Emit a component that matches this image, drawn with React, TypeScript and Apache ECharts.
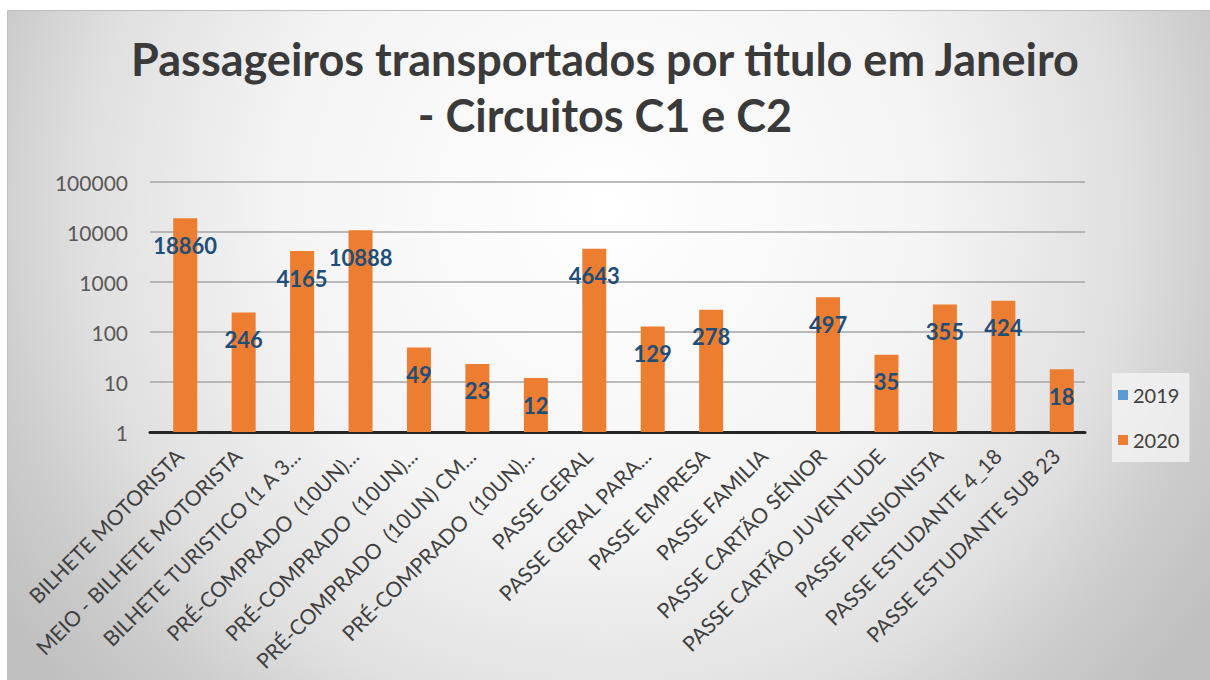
import React, { useEffect, useRef } from "react";
import * as echarts from "echarts";

const titleText = "Passageiros transportados por titulo em Janeiro\n- Circuitos C1 e C2";

const categories = [
  "BILHETE MOTORISTA",
  "MEIO - BILHETE MOTORISTA",
  "BILHETE TURISTICO (1 A 3...",
  "PRÉ-COMPRADO  (10UN)...",
  "PRÉ-COMPRADO  (10UN)...",
  "PRÉ-COMPRADO  (10UN) CM...",
  "PRÉ-COMPRADO  (10UN)...",
  "PASSE GERAL",
  "PASSE GERAL PARA...",
  "PASSE EMPRESA",
  "PASSE FAMILIA",
  "PASSE CARTÃO SÉNIOR",
  "PASSE CARTÃO JUVENTUDE",
  "PASSE PENSIONISTA",
  "PASSE ESTUDANTE 4_18",
  "PASSE ESTUDANTE SUB 23",
];

const values2019 = [null, null, null, null, null, null, null, null, null, null, null, null, null, null, null, null];
const values2020 = [18860, 246, 4165, 10888, 49, 23, 12, 4643, 129, 278, null, 497, 35, 355, 424, 18];

const seriesNames = ["2019", "2020"];
const yTicks = [1, 10, 100, 1000, 10000, 100000];

export default function App() {
  const ref = useRef<HTMLDivElement>(null);

  useEffect(() => {
    if (!ref.current) return;
    const chart = echarts.init(ref.current, undefined, { renderer: "svg" });
    const font = "Lato, 'Open Sans', sans-serif";
    chart.setOption({
      animation: false,
      graphic: [
        {
          type: "rect",
          z: -10,
          silent: true,
          shape: { x: 7.5, y: 10.5, width: 1210, height: 680 },
          style: {
            fill: new echarts.graphic.RadialGradient(
              605,
              210,
              720,
              [
                { offset: 0, color: "#ffffff" },
                { offset: 0.45, color: "#f4f4f4" },
                { offset: 0.72, color: "#e0e0e0" },
                { offset: 0.86, color: "#cdcdcd" },
                { offset: 1, color: "#c0c0c0" },
              ],
              true
            ),
            stroke: "#bdbdbd",
            lineWidth: 1,
          },
        },
      ],
      title: {
        text: titleText,
        left: "center",
        top: 26,
        textStyle: {
          fontFamily: font,
          fontWeight: "bold",
          fontSize: 45,
          lineHeight: 56,
          color: "#3a3a3a",
        },
      },
      legend: {
        data: seriesNames,
        orient: "vertical",
        left: 1112,
        top: 373,
        backgroundColor: "rgba(245,245,245,0.75)",
        padding: [12, 10, 12, 6],
        itemGap: 25,
        itemWidth: 10,
        itemHeight: 10,
        icon: "rect",
        textStyle: { fontFamily: font, fontSize: 20, color: "#404040" },
      },
      grid: { left: 150, right: 125, top: 182, bottom: 248, containLabel: false },
      xAxis: {
        type: "category",
        data: categories,
        axisLine: { show: true, lineStyle: { color: "#262626", width: 3 } },
        axisTick: { show: false },
        axisLabel: {
          interval: 0,
          rotate: 45,
          margin: 20,
          fontFamily: font,
          fontSize: 21,
          color: "#404040",
        },
      },
      yAxis: {
        type: "log",
        logBase: 10,
        min: yTicks[0],
        max: yTicks[yTicks.length - 1],
        axisLine: { show: false },
        axisTick: { show: false },
        axisLabel: {
          margin: 22,
          fontFamily: font,
          fontSize: 21,
          color: "#595959",
          formatter: (v: number) => String(Math.round(v)),
        },
        splitLine: { show: true, lineStyle: { color: "#a6a6a6", width: 1.5 } },
      },
      series: [
        {
          name: seriesNames[0],
          type: "bar",
          data: values2019,
          barWidth: 24,
          barGap: "-50%",
          itemStyle: { color: "#5B9BD5" },
        },
        {
          name: seriesNames[1],
          type: "bar",
          data: values2020,
          barWidth: 24,
          barGap: "-50%",
          itemStyle: { color: "#ED7D31" },
          label: {
            show: true,
            position: "insideTop",
            distance: 16,
            fontFamily: font,
            fontWeight: "bold",
            fontSize: 22,
            color: "#1F4E79",
          },
        },
      ],
    });
    return () => chart.dispose();
  }, []);

  return (
    <div style={{ position: "fixed", left: 0, top: 0, width: 1210, height: 680, background: "#ffffff" }}>
      <div ref={ref} style={{ width: 1210, height: 680 }} />
    </div>
  );
}
